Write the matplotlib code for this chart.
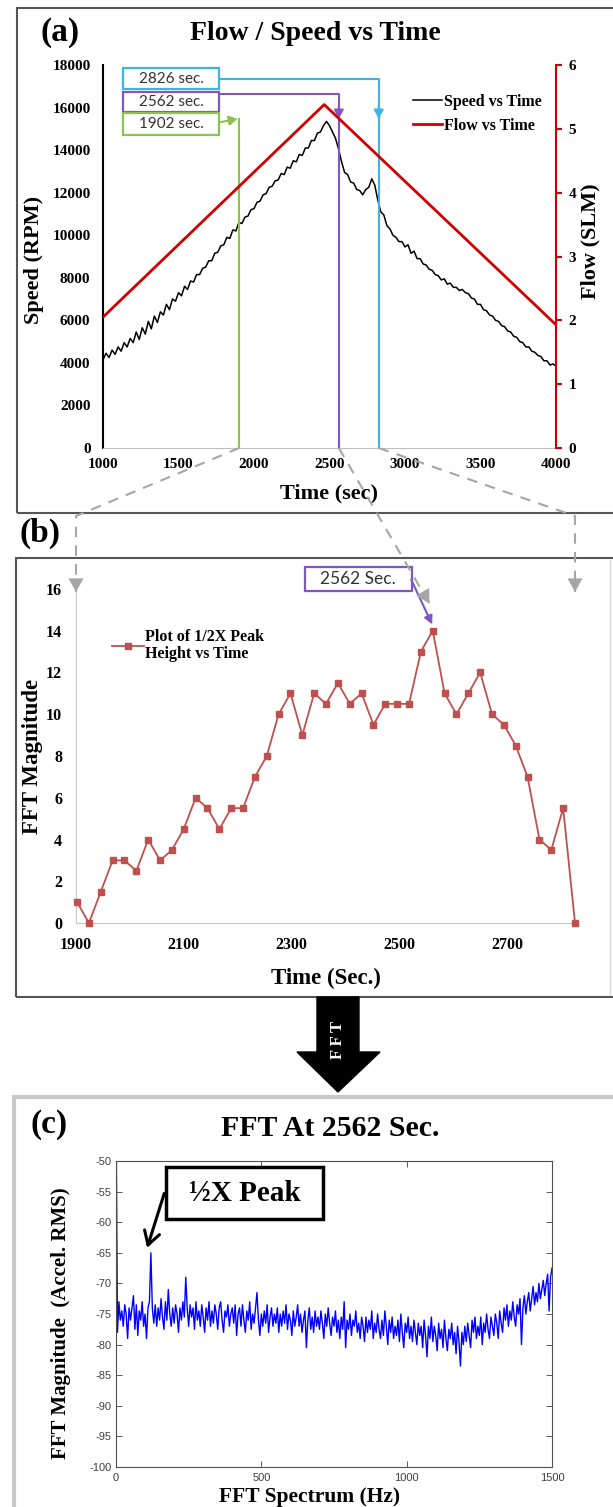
import numpy as np
import matplotlib.pyplot as plt
from matplotlib.patches import Rectangle, Polygon, FancyArrowPatch
from matplotlib.lines import Line2D

plt.rcParams['font.family'] = ['Liberation Serif', 'DejaVu Serif']
plt.rcParams['font.weight'] = 'bold'
plt.rcParams['axes.labelweight'] = 'bold'
plt.rcParams['axes.unicode_minus'] = False

# ---- (a) speed / flow ramp ----
speed_time = np.arange(1000, 4001, 20)
speed_rpm = [
    4150, 4450, 4250, 4600, 4400, 4750, 4550, 4950, 4750, 5150,
    4950, 5450, 5100, 5650, 5350, 5950, 5600, 6200, 5900, 6400,
    6250, 6750, 6500, 7000, 6900, 7300, 7150, 7600, 7450, 7850,
    7800, 8150, 8150, 8450, 8500, 8800, 8800, 9150, 9200, 9500,
    9550, 9900, 9850, 10250, 10200, 10600, 10550, 10850, 10900, 11200,
    11250, 11550, 11600, 11900, 11950, 12250, 12300, 12550, 12600, 12900,
    12850, 13200, 13150, 13500, 13450, 13800, 13750, 14100, 14100, 14450,
    14450, 14800, 14850, 15150, 15350, 15150, 14850, 14550, 14050, 13450,
    12950, 12850, 12500, 12450, 12150, 12100, 11900, 12150, 12250, 12650,
    12350, 11650, 11100, 10950, 10450, 10300, 10000, 9900, 9700, 9700,
    9450, 9550, 9150, 9250, 8900, 8900, 8650, 8600, 8400, 8350,
    8150, 8100, 7900, 7950, 7700, 7750, 7550, 7550, 7400, 7450,
    7300, 7250, 7050, 7000, 6750, 6750, 6500, 6450, 6250, 6200,
    6000, 5950, 5750, 5700, 5500, 5450, 5250, 5200, 5000, 4950,
    4750, 4750, 4550, 4500, 4350, 4300, 4100, 4100, 3900, 3950,
    3850,
]
flow_time = [1000, 2465, 4000]
flow_slm = [2.05, 5.38, 1.93]

# marked instants
mark_times = [2826, 2562, 1902]
mark_labels = ['2826 sec.', '2562 sec.', '1902 sec.']
mark_colors = ['#3DB4E6', '#7E57C2', '#8DC153']

# ---- (b) 1/2X peak height ----
peak_time = np.arange(1902, 2827, 22)
peak_mag = [
    1.0, 0.0, 1.5, 3.0, 3.0, 2.5, 4.0, 3.0, 3.5, 4.5,
    6.0, 5.5, 4.5, 5.5, 5.5, 7.0, 8.0, 10.0, 11.0, 9.0,
    11.0, 10.5, 11.5, 10.5, 11.0, 9.5, 10.5, 10.5, 10.5, 13.0,
    14.0, 11.0, 10.0, 11.0, 12.0, 10.0, 9.5, 8.5, 7.0, 4.0,
    3.5, 5.5, 0.0,
]

# ---- (c) spectrum at 2562 s ----
freq_hz = np.arange(0, 1501, 5)
fft_db = [
    -40, -78, -73, -76, -74.5, -77, -73.5, -75, -79, -74,
    -76, -74, -72, -77.5, -73.5, -78.5, -74.5, -76, -73, -77,
    -75, -79, -74, -73, -65, -74, -76.5, -73.5, -77, -74,
    -76, -72.5, -75.5, -77.5, -73, -76, -71, -75, -77, -74,
    -76.5, -73.5, -75, -78, -74, -76, -73, -75.5, -69, -74,
    -77, -73.5, -75.5, -74, -77.5, -73, -76, -74.5, -77, -73.5,
    -75.5, -78, -74, -76, -73, -77, -74.5, -76.5, -73.5, -75,
    -77.5, -74, -73, -76, -78, -74.5, -75.5, -73.5, -77, -75,
    -74, -76.5, -73.5, -78.5, -75, -74, -77, -73.5, -76, -78,
    -74.5, -76, -73, -77.5, -75, -76.5, -74, -71.5, -76, -78.5,
    -75, -77, -74.5, -76.5, -73.5, -78, -75.5, -74, -77, -75,
    -76.5, -74, -78, -75, -77, -74.5, -76.5, -73.5, -77.5, -75,
    -76, -78.5, -74.5, -77, -75.5, -73.5, -77, -75, -78, -76,
    -74.5, -80.5, -76, -74, -77.5, -75.5, -78, -74.5, -77, -75.5,
    -77.5, -74.5, -76.5, -79, -75, -77, -74, -76.5, -78.5, -75.5,
    -77, -74.5, -78, -76, -79, -75.5, -77.5, -73, -80.5, -76,
    -77.5, -75, -78.5, -76, -77, -74.5, -78, -76.5, -79, -75.5,
    -77, -79.5, -75.5, -78, -76, -77.5, -74.5, -79, -76.5, -78,
    -75, -77.5, -79, -76, -78.5, -74.5, -77, -80, -76, -78,
    -75.5, -79, -77, -78.5, -76, -79.5, -75, -78, -80.5, -76.5,
    -78, -75.5, -79, -77, -79.5, -76, -78, -80, -76.5, -78.5,
    -77, -80.5, -76, -78.5, -82, -77, -79, -75.5, -79.5, -77,
    -78.5, -81, -76.5, -79, -77.5, -80.5, -76, -79, -81, -77.5,
    -79, -76.5, -80, -78, -81.5, -77, -79.5, -83.5, -78, -80,
    -77, -79.5, -76.5, -78.5, -80.5, -76, -78, -75.5, -79, -77,
    -78.5, -75.5, -80, -76.5, -78, -75, -77.5, -79, -75.5, -77,
    -78.5, -75, -76.5, -79, -74.5, -76.5, -78, -74, -76, -73.5,
    -77, -74.5, -76, -73, -75.5, -77, -73.5, -75, -72.5, -80,
    -74, -72, -75, -73, -71.5, -74.5, -72.5, -70.5, -73.5, -71.5,
    -73, -70, -72.5, -71, -69.5, -72, -70, -68.5, -74.5, -69,
    -67.5,
]

W, H = 613, 1507
GRAY = '#A6A6A6'


def fig_box(l, t, r, b):
    return [l / W, 1 - b / H, (r - l) / W, (b - t) / H]


def fpt(x, y):
    return (x / W, 1 - y / H)


fig = plt.figure(figsize=(W / 100, H / 100), dpi=100)
inv = fig.transFigure.inverted()


def to_fig(ax, x, y):
    return inv.transform(ax.transData.transform((x, y)))


# panel frames
fig.add_artist(Rectangle(fpt(17, 513), (630 - 17) / W, (513 - 8) / H,
                         transform=fig.transFigure, fill=False, ec='#555555', lw=1.5))
fig.add_artist(Rectangle(fpt(16, 997), (630 - 16) / W, (997 - 558) / H,
                         transform=fig.transFigure, fill=False, ec='#555555', lw=1.5))
fig.add_artist(Rectangle(fpt(14, 1530), (630 - 14) / W, (1530 - 1097) / H,
                         transform=fig.transFigure, fill=False, ec='#C8C8C8', lw=3))
fig.add_artist(Line2D([610 / W, 610 / W], [fpt(0, 560)[1], fpt(0, 995)[1]],
                      transform=fig.transFigure, color='#D9D9D9', lw=1))

# ================= (a) =================
ax_a = fig.add_axes(fig_box(103, 65, 556, 448))
speed_line, = ax_a.plot(speed_time, speed_rpm, color='black', lw=1.1, label='Speed vs Time')
ax_a.set_xlim(1000, 4000)
ax_a.set_ylim(0, 18000)
ax_a.set_xticks(range(1000, 4001, 500))
ax_a.set_yticks(range(0, 18001, 2000))
ax_a.tick_params(axis='both', length=0, labelsize=11)
ax_a.tick_params(axis='y', pad=9)
ax_a.tick_params(axis='x', pad=7)
for s in ['top', 'right']:
    ax_a.spines[s].set_visible(False)
ax_a.spines['left'].set_color('black')
ax_a.spines['left'].set_linewidth(1.5)
ax_a.spines['bottom'].set_color('#BFBFBF')

ax_a2 = ax_a.twinx()
flow_line, = ax_a2.plot(flow_time, flow_slm, color='#D00000', lw=2, label='Flow vs Time')
ax_a2.set_ylim(0, 6)
ax_a2.set_yticks(range(0, 7))
for s in ['top', 'left', 'bottom']:
    ax_a2.spines[s].set_visible(False)
ax_a2.spines['right'].set_color('#D00000')
ax_a2.spines['right'].set_linewidth(1.5)
ax_a2.tick_params(axis='y', direction='out', length=4, width=1.5, color='#D00000',
                  labelsize=11, pad=5)

ax_a.set_xlabel('Time (sec)', fontsize=16)
ax_a.xaxis.label.set_va('center')
ax_a.xaxis.set_label_coords(0.5, -0.12)
ax_a.set_ylabel('Speed (RPM)', fontsize=16)
ax_a.yaxis.label.set_va('center')
ax_a.yaxis.set_label_coords(-0.152, 0.49)
ax_a2.set_ylabel('Flow (SLM)', fontsize=16, rotation=90)
ax_a2.yaxis.label.set_va('center')
ax_a2.yaxis.set_label_coords(1.077, 0.54)

ax_a2.legend([speed_line, flow_line], ['Speed vs Time', 'Flow vs Time'],
             loc='upper left', bbox_to_anchor=(0.685, 0.925), frameon=False,
             fontsize=11.5, handlelength=1.8, handletextpad=0.1, labelspacing=0.5,
             borderpad=0, borderaxespad=0)

fig.text(*fpt(60, 33), '(a)', fontsize=24, ha='center', va='center')
fig.text(*fpt(315, 34), 'Flow / Speed vs Time', fontsize=20, ha='center', va='center')

# marker boxes and leader lines
box_x0, box_x1 = 1132, 1768
box_y = [(16870, 17860), (15790, 16730), (14710, 15745)]
lead_y = [17342, 16637]
head_y = 15480
for t, lab, c, (y0, y1) in zip(mark_times, mark_labels, mark_colors, box_y):
    ax_a.add_patch(Rectangle((box_x0, y0), box_x1 - box_x0, y1 - y0, fc='white', ec=c,
                             lw=1.6, clip_on=False, zorder=5))
    ax_a.text((box_x0 + box_x1) / 2, (y0 + y1) / 2, lab, family='Lato', weight='normal',
              fontsize=11, color='#333333', ha='center', va='center', zorder=6)

for t, c, ly in zip(mark_times[:2], mark_colors[:2], lead_y):
    ax_a.plot([box_x1, t, t], [ly, ly, 0], color=c, lw=1.5, zorder=4)
    ax_a.annotate('', xy=(t, head_y), xytext=(t, head_y + 600),
                  arrowprops=dict(arrowstyle='-|>,head_length=0.5,head_width=0.28',
                                  color=c, lw=1.5, shrinkA=0, shrinkB=0), zorder=6)

t_g, c_g = mark_times[2], mark_colors[2]
ax_a.plot([t_g, t_g], [0, 15480], color=c_g, lw=1.5, zorder=4)
ax_a.annotate('', xy=(t_g - 10, 15470), xytext=(box_x1, 15300),
              arrowprops=dict(arrowstyle='-|>,head_length=0.5,head_width=0.28',
                              color=c_g, lw=1.5, shrinkA=0, shrinkB=0), zorder=6)

# ================= (b) =================
ax_b = fig.add_axes(fig_box(76, 589, 575, 923))
ax_b.plot(peak_time, peak_mag, color='#C0504D', lw=1.3, marker='s', ms=4.5,
          label='Plot of 1/2X Peak\nHeight vs Time', clip_on=False, zorder=3)
ax_b.set_xlim(1900, 2826)
ax_b.set_ylim(0, 16)
ax_b.set_xticks([1900, 2100, 2300, 2500, 2700])
ax_b.set_yticks(range(0, 17, 2))
ax_b.tick_params(axis='both', length=0, labelsize=11.5, pad=10)
for s in ['top', 'right']:
    ax_b.spines[s].set_visible(False)
for s in ['left', 'bottom']:
    ax_b.spines[s].set_color('#C8C8C8')
ax_b.set_xlabel('Time (Sec.)', fontsize=16.5)
ax_b.xaxis.label.set_va('center')
ax_b.xaxis.set_label_coords(0.5, -0.165)
ax_b.set_ylabel('FFT Magnitude', fontsize=16.5)
ax_b.yaxis.label.set_va('center')
ax_b.yaxis.set_label_coords(-0.087, 0.5)
leg_b = ax_b.legend(loc='upper left', bbox_to_anchor=(0.072, 0.88), frameon=False,
                    fontsize=11.5, handlelength=2.0, handletextpad=0.1, borderpad=0,
                    borderaxespad=0)
for txt in leg_b.get_texts():
    txt.set_linespacing(1.05)
fig.text(*fpt(40, 533), '(b)', fontsize=24, ha='center', va='center')

ax_b.add_patch(Rectangle((2325, 15.9), 2523 - 2325, 17.05 - 15.9, fc='white',
                         ec=mark_colors[1], lw=1.6, clip_on=False, zorder=5))
ax_b.text(2424, 16.48, '2562 Sec.', family='Lato', weight='normal', fontsize=12.5,
          color='#333333', ha='center', va='center', zorder=6)
ax_b.annotate('', xy=(2561, 14.3), xytext=(2522, 16.45),
              arrowprops=dict(arrowstyle='-|>,head_length=0.5,head_width=0.25',
                              color=mark_colors[1], lw=1.5, shrinkA=0, shrinkB=0),
              zorder=6)

# dashed connectors from (a) down to (b)
dash_kw = dict(transform=fig.transFigure, color=GRAY, lw=1.5, ls=(0, (5, 4)))
head_kw = dict(transform=fig.transFigure, color=GRAY, lw=0, shrinkA=0, shrinkB=0,
               arrowstyle='-|>,head_length=0.55,head_width=0.3', mutation_scale=18)
conn = [
    (to_fig(ax_a, 1902, 0), to_fig(ax_b, 1900, 15.85), True),
    (to_fig(ax_a, 2562, 0), to_fig(ax_b, 2556, 15.3), False),
    (to_fig(ax_a, 2826, 0), to_fig(ax_b, 2826, 15.85), True),
]
for start, tip, elbow in conn:
    if elbow:
        corner = (tip[0], fpt(0, 516)[1])
        pts = [start, corner, tip]
    else:
        pts = [start, tip]
    xs, ys = zip(*pts)
    fig.add_artist(Line2D(xs, ys, **dash_kw))
    prev = np.array(pts[-2])
    d = np.array(tip) - prev
    d = d / np.hypot(d[0] * W, d[1] * H)
    fig.add_artist(FancyArrowPatch(tuple(np.array(tip) - d * 14), tuple(tip), **head_kw))

# FFT block arrow
arrow_px = [(317, 997), (359, 997), (359, 1052), (380, 1052), (338, 1092),
            (297, 1052), (317, 1052)]
fig.add_artist(Polygon([fpt(x, y) for x, y in arrow_px], closed=True,
                       transform=fig.transFigure, fc='black', ec='black'))
fig.text(*fpt(338, 1040), 'F F T', color='white', fontsize=12, rotation=90,
         ha='center', va='center')

# ================= (c) =================
ax_c = fig.add_axes(fig_box(116, 1161, 552, 1467))
ax_c.plot(freq_hz, fft_db, color='#0000FF', lw=1.0)
ax_c.set_xlim(0, 1500)
ax_c.set_ylim(-100, -50)
ax_c.set_xticks([0, 500, 1000, 1500])
ax_c.set_yticks(range(-100, -49, 5))
ax_c.tick_params(axis='both', direction='in', length=4, width=0.6, top=True, right=True,
                 labelsize=8, labelcolor='#404040', color='#404040')
ax_c.tick_params(axis='y', pad=3)
ax_c.tick_params(axis='x', pad=4)
for lab in ax_c.get_xticklabels() + ax_c.get_yticklabels():
    lab.set_family('Liberation Sans')
    lab.set_weight('normal')
for s in ax_c.spines.values():
    s.set_color('#505050')
    s.set_linewidth(0.8)
ax_c.set_xlabel('FFT Spectrum (Hz)', fontsize=15.5)
ax_c.xaxis.label.set_va('center')
ax_c.xaxis.set_label_coords(0.445, -0.098)
ax_c.set_ylabel('FFT Magnitude  (Accel. RMS)', fontsize=15)
ax_c.yaxis.label.set_va('center')
ax_c.yaxis.set_label_coords(-0.126, 0.47)

fig.text(*fpt(49, 1125), '(c)', fontsize=24, ha='center', va='center')
fig.text(*fpt(330, 1128), 'FFT At 2562 Sec.', fontsize=21.5,
         ha='center', va='center')

ax_c.add_patch(Rectangle((172, -59.5), 712 - 172, 8.5, fc='white', ec='black', lw=2.5,
                         clip_on=False, zorder=5))
ax_c.text(442, -55.3, '½X Peak', fontsize=21, ha='center', va='center', zorder=6)
ax_c.annotate('', xy=(107, -64.2), xytext=(166, -55.3),
              arrowprops=dict(arrowstyle='->,head_length=0.6,head_width=0.35',
                              color='black', lw=2.2, shrinkA=0, shrinkB=0,
                              mutation_scale=16), zorder=6)

fig.savefig('out.png', dpi=100)
